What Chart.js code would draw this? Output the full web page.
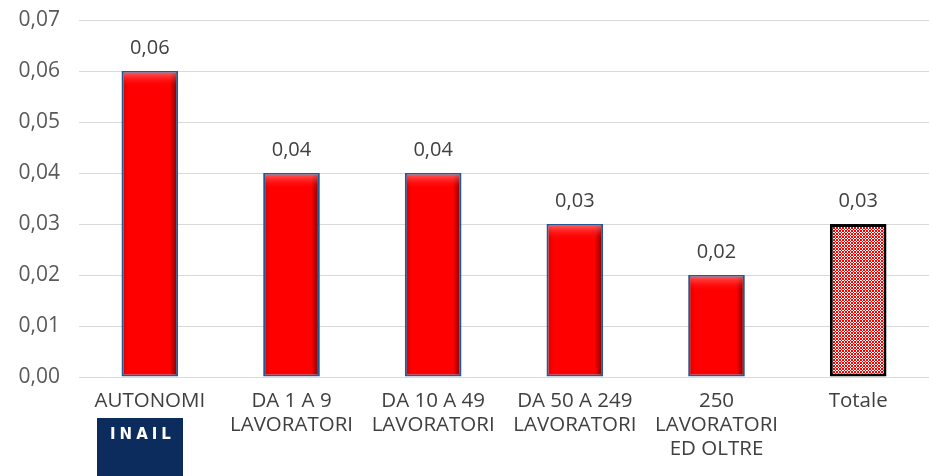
<!DOCTYPE html>
<html>
<head>
<meta charset="utf-8">
<script src="https://cdn.jsdelivr.net/npm/chart.js@4/dist/chart.umd.min.js"></script>
<style>
html,body{margin:0;padding:0;background:#fff;}
#wrap{width:929px;height:476px;position:relative;}
</style>
</head>
<body>
<div id="wrap"><canvas id="c" width="929" height="476"></canvas></div>
<script>
const categories = [
  "AUTONOMI",
  ["DA 1 A 9", "LAVORATORI"],
  ["DA 10 A 49", "LAVORATORI"],
  ["DA 50 A 249", "LAVORATORI"],
  ["250", "LAVORATORI", "ED OLTRE"],
  "Totale"
];
const values = [0.06, 0.04, 0.04, 0.03, 0.02, 0.03];
const dataLabels = ["0,06", "0,04", "0,04", "0,03", "0,02", "0,03"];
const yTicks = [0, 0.01, 0.02, 0.03, 0.04, 0.05, 0.06, 0.07];
const yTickLabels = ["0,00", "0,01", "0,02", "0,03", "0,04", "0,05", "0,06", "0,07"];
const logoText = "INAIL";

function makePattern(ctx) {
  const t = document.createElement('canvas');
  t.width = 6; t.height = 6;
  const g = t.getContext('2d');
  g.fillStyle = '#ffffff'; g.fillRect(0, 0, 6, 6);
  g.fillStyle = '#ff0000';
  const map = [
    "RWRRWR",
    "WRWWRW",
    "RWRRWR",
    "RWRRWR",
    "WRWWRW",
    "RWRRWR"
  ];
  for (let y = 0; y < 6; y++) for (let x = 0; x < 6; x++) if (map[y][x] === 'R') g.fillRect(x, y, 1, 1);
  return ctx.createPattern(t, 'repeat');
}

const canvas = document.getElementById('c');
const ctx0 = canvas.getContext('2d');
const pattern = makePattern(ctx0);

function barFill(context) {
  const chart = context.chart;
  const i = context.dataIndex;
  if (i === values.length - 1) return pattern;
  const xs = chart.scales && chart.scales.x;
  if (!xs || !chart.chartArea) return '#ff0000';
  const cx = xs.getPixelForValue(i);
  const w = (chart.chartArea.width / values.length) * 0.4;
  const g = chart.ctx.createLinearGradient(cx - w / 2, 0, cx + w / 2, 0);
  g.addColorStop(0, '#d00000');
  g.addColorStop(0.12, '#ff0000');
  g.addColorStop(0.85, '#ff0000');
  g.addColorStop(1, '#700000');
  return g;
}

const labelPlugin = {
  id: 'labels',
  afterDatasetsDraw(chart) {
    const ctx = chart.ctx;
    const meta = chart.getDatasetMeta(0);
    ctx.save();
    meta.data.forEach((bar, i) => {
      if (i === values.length - 1) return;
      const w = bar.width - 4;
      const x0 = bar.x - w / 2;
      const g = ctx.createLinearGradient(0, bar.y + 2, 0, bar.y + 16);
      g.addColorStop(0, 'rgba(255,150,150,0.55)');
      g.addColorStop(1, 'rgba(255,0,0,0)');
      ctx.fillStyle = g;
      ctx.fillRect(x0, bar.y + 1, w, 15);
    });
    ctx.font = '20px "Open Sans"';
    ctx.fillStyle = '#404040';
    ctx.textAlign = 'center';
    ctx.textBaseline = 'alphabetic';
    meta.data.forEach((bar, i) => {
      ctx.fillText(dataLabels[i], bar.x, bar.y - 17);
    });
    ctx.restore();
  },
  afterDraw(chart) {
    const ctx = chart.ctx;
    ctx.save();
    ctx.fillStyle = '#0c2c5e';
    ctx.fillRect(97, 418, 86, 58);
    ctx.fillStyle = '#ffffff';
    ctx.font = 'bold 15px "DejaVu Sans"';
    ctx.textAlign = 'left';
    ctx.textBaseline = 'middle';
    let x = 110;
    for (let k = 0; k < logoText.length; k++) {
      ctx.fillText(logoText[k], x, 435);
      x += ctx.measureText(logoText[k]).width + 4;
    }
    ctx.restore();
  }
};

new Chart(canvas, {
  type: 'bar',
  data: {
    labels: categories,
    datasets: [{
      data: values,
      backgroundColor: barFill,
      borderColor: values.map((v, i) => i === values.length - 1 ? '#000000' : '#1f5a96'),
      borderWidth: values.map((v, i) => i === values.length - 1 ? 3 : 2),
      borderSkipped: false,
      barPercentage: 0.4,
      categoryPercentage: 1.0
    }]
  },
  options: {
    responsive: false,
    animation: false,
    devicePixelRatio: 1,
    layout: { padding: { top: 20, left: 0, right: 0, bottom: 0 } },
    plugins: { legend: { display: false }, tooltip: { enabled: false } },
    scales: {
      x: {
        grid: { display: false, drawTicks: false },
        border: { display: true, color: '#d9d9d9', width: 1 },
        ticks: {
          color: '#404040',
          font: { family: 'Open Sans', size: 20.5, lineHeight: 1.18 },
          padding: 12,
          maxRotation: 0,
          autoSkip: false
        },
        afterFit(s) { s.height = 99; s.paddingLeft = 0; s.paddingRight = 0; }
      },
      y: {
        min: 0, max: 0.07,
        afterBuildTicks(s) { s.ticks = yTicks.map(v => ({ value: v })); },
        grid: { color: '#d9d9d9', lineWidth: 1, drawTicks: false },
        border: { display: false },
        ticks: {
          color: '#595959',
          font: { family: 'Open Sans', size: 21 },
          padding: 19,
          callback(v) { const i = yTicks.findIndex(t => Math.abs(t - v) < 1e-9); return i >= 0 ? yTickLabels[i] : ''; }
        },
        afterFit(s) { s.width = 79; s.paddingTop = 0; s.paddingBottom = 0; }
      }
    }
  },
  plugins: [labelPlugin]
});
</script>
</body>
</html>
